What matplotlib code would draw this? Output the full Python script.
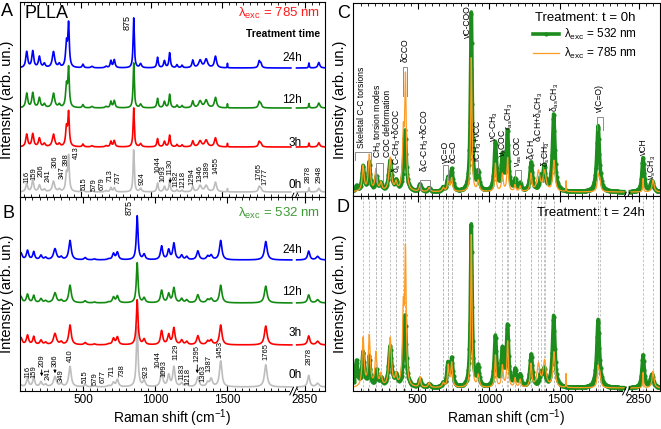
import numpy as np
import matplotlib
matplotlib.use("Agg")
import matplotlib.pyplot as plt
from matplotlib.lines import Line2D

plt.rcParams["font.family"] = ["Liberation Sans", "DejaVu Sans"]
plt.rcParams["mathtext.fontset"] = "custom"
plt.rcParams["mathtext.rm"] = "Liberation Sans"
plt.rcParams["mathtext.it"] = "Liberation Sans:italic"
plt.rcParams["mathtext.bf"] = "Liberation Sans:bold"

# ---------------- data (peak tables) ----------------
peaks_785 = [116, 159, 206, 241, 306, 347, 398, 413, 515, 579, 679, 713, 737, 875, 924,
             1044, 1093, 1130, 1182, 1218, 1294, 1346, 1389, 1455, 1540, 1765, 1777, 2878, 2948]
h785_0h = [0.19, 0.27, 0.16, 0.06, 0.25, 0.06, 0.40, 0.82, 0.05, 0.03, 0.03, 0.10, 0.10, 1.0, 0.08,
           0.21, 0.13, 0.25, 0.05, 0.04, 0.13, 0.15, 0.15, 0.23, 0.08, 0.12, 0.08, 0.10, 0.09]
h785_24h = [0.32, 0.33, 0.22, 0.08, 0.32, 0.07, 0.47, 0.85, 0.07, 0.03, 0.03, 0.14, 0.16, 1.0, 0.08,
            0.21, 0.14, 0.30, 0.06, 0.05, 0.15, 0.15, 0.17, 0.23, 0.09, 0.13, 0.08, 0.10, 0.11]
w785 = [8, 8, 8, 8, 10, 8, 7, 6, 6, 8, 8, 6, 7, 5, 8,
        6, 7, 6, 6, 6, 7, 12, 12, 9, 1.5, 7, 7, 3, 8]

peaks_532 = [70, 116, 159, 209, 241, 306, 349, 410, 515, 579, 677, 711, 738, 875, 923,
             1044, 1093, 1129, 1183, 1218, 1295, 1363, 1387, 1453, 1765, 2878, 2940]
h532_0h = [0.03, 0.14, 0.16, 0.08, 0.04, 0.17, 0.05, 0.34, 0.04, 0.02, 0.02, 0.07, 0.12, 1.0, 0.10,
           0.27, 0.19, 0.33, 0.06, 0.04, 0.16, 0.07, 0.13, 0.43, 0.37, 0.19, 0.06]
h532_24h = [0.16, 0.21, 0.18, 0.10, 0.05, 0.25, 0.06, 0.44, 0.05, 0.02, 0.02, 0.14, 0.17, 1.0, 0.12,
            0.31, 0.22, 0.37, 0.10, 0.07, 0.20, 0.08, 0.10, 0.44, 0.42, 0.20, 0.08]
w532 = [10, 9, 8, 9, 9, 12, 9, 10, 9, 9, 9, 9, 9, 7, 9,
        9, 9, 9, 9, 9, 10, 10, 10, 10, 11, 9, 12]

labels_785 = [116, 159, 206, 241, 306, 347, 398, 413, 515, 579, 679, 713, 737, 924, 1044,
              1093, 1130, 1182, 1218, 1294, 1346, 1389, 1455, 1765, 1777, 2878, 2948]
labels_532 = [116, 159, 209, 241, 306, 349, 410, 515, 579, 677, 711, 738, 923, 1044, 1093,
              1129, 1183, 1218, 1295, 1363, 1387, 1453, 1765, 2878]
times = ["0h", "3h", "12h", "24h"]

# ---------------- layout ----------------
label_x_785 = [116, 170, 215, 269, 317, 364, 395, 466, 522, 593, 648, 707, 766, 932, 1045,
               1085, 1134, 1178, 1226, 1286, 1345, 1397, 1458, 1766, 1806, 2873, 2951]
label_y_785 = [14, 17, 20, 15, 29, 18, 31, 38, 7, 6, 7, 15, 13, 12, 24,
               15, 22, 10, 9, 12, 15, 19, 23, 17, 12, 14, 14]
label_x_532 = [121, 163, 214, 260, 306, 352, 410, 514, 588, 641, 698, 768, 934, 1021, 1061,
               1141, 1183, 1229, 1291, 1328, 1374, 1448, 1764, 2883]
label_y_532 = [13, 13, 24, 11, 24, 9, 29, 8, 6, 8, 14, 14, 13, 23, 14,
               31, 11, 6, 29, 9, 19, 33, 31, 26]
arrows_785 = {1134: (22, 11)}
arrows_532 = {214: (24, 12), 306: (24, 15), 1291: (29, 15)}
# (offset, scale) of each trace in pixel-like units
traces_A = [(5, 42), (50, 39), (89, 45), (129, 50)]
traces_B = [(4, 60), (46, 45), (88, 40), (131, 44)]
time_y_A = [12, 54, 97, 139]
time_y_B = [16, 58, 99, 141]
colors = ["#bdbdbd", "#ff0000", "#128a12", "#0000ff"]

W, H = 661, 429
fig = plt.figure(figsize=(W / 100, H / 100), dpi=100)


def rect(l, t, r, b):
    return [l / W, 1 - b / H, (r - l) / W, (b - t) / H]


axA = fig.add_axes(rect(20, 2, 325, 197))
axB = fig.add_axes(rect(20, 197, 325, 391))
axC = fig.add_axes(rect(353, 3, 660, 196))
axD = fig.add_axes(rect(353, 196, 660, 391))


def make_scale(g0, g1, t1):
    # broken axis: x <= g0 kept, g0..g1 squeezed into g0..t1, then shifted
    def fwd(x):
        x = np.asarray(x, dtype=float)
        return np.where(x <= g0, x, np.where(x >= g1, x - (g1 - t1),
                                             g0 + (x - g0) * (t1 - g0) / (g1 - g0)))

    def inv(t):
        t = np.asarray(t, dtype=float)
        return np.where(t <= g0, t, np.where(t >= t1, t + (g1 - t1),
                                             g0 + (t - g0) * (g1 - g0) / (t1 - g0)))
    return fwd, inv


def lorentz(x, pos, h, w):
    x = np.asarray(x, float)[:, None]
    pos = np.asarray(pos, float)[None, :]
    h = np.asarray(h, float)[None, :]
    w = np.asarray(w, float)[None, :]
    return (h * w ** 2 / ((x - pos) ** 2 + w ** 2)).sum(axis=1)


def draw(ax, pos, h, w, base, scale, segs, **kw):
    for a, b in segs:
        xs = np.linspace(a, b, int((b - a) * 2))
        ax.plot(xs, base + scale * lorentz(xs, pos, h, w), **kw)


def setup(ax, xlim, ylim, gap, labels=True):
    fwd, inv = make_scale(*gap)
    ax.set_xscale("function", functions=(fwd, inv))
    ax.set_xlim(*xlim)
    ax.set_ylim(*ylim)
    ax.set_xticks([500, 1000, 1500, 2850])
    ax.set_xticks(list(range(100, 1951, 50)) + [2800, 2900, 2950], minor=True)
    ax.tick_params(axis="x", which="both", direction="in", top=True, bottom=True,
                   labelbottom=labels, labelsize=8.5, pad=2.5)
    ax.tick_params(axis="x", which="major", length=4)
    ax.tick_params(axis="x", which="minor", length=2.5)
    ax.tick_params(axis="y", left=False, labelleft=False)
    ax.set_ylabel("Intensity (arb. un.)", fontsize=10.5, labelpad=4)
    if labels:
        ax.set_xlabel("Raman shift (cm$^{-1}$)", fontsize=10, labelpad=1)
    for s in ax.spines.values():
        s.set_linewidth(0.8)
    # axis break marks
    t0, t1 = fwd(xlim[0]), fwd(xlim[1])
    f = ((gap[0] + gap[2]) / 2 - t0) / (t1 - t0)
    ax.plot([f - 0.009, f + 0.009], [0, 0], transform=ax.transAxes, color="white",
            lw=2, clip_on=False, zorder=5)
    for d in (-0.006, 0.006):
        ax.plot([f + d - 0.006, f + d + 0.006], [-0.02, 0.02], transform=ax.transAxes,
                color="k", lw=0.7, clip_on=False, zorder=6)


def peak_labels(ax, names, xs, ys, arrows):
    for n, x, y in zip(names, xs, ys):
        ax.text(x, y, str(n), rotation=90, ha="center", va="bottom", fontsize=5.5)
    for x, (y0, y1) in arrows.items():
        ax.annotate("", xy=(x, y1), xytext=(x, y0),
                    arrowprops=dict(arrowstyle="-|>", lw=0.6, color="k", mutation_scale=4))


# ---------------- panel A (785 nm) ----------------
segs_A = [(60, 1990), (2790, 3000)]
setup(axA, (68.5, 2992), (0, 195), (1997, 2785, 2025), labels=False)
for i, ((b, s), c) in enumerate(zip(traces_A, colors)):
    h = h785_0h if i == 0 else h785_24h
    draw(axA, peaks_785, h, w785, b, s, segs_A, color=c, lw=1.2)
    axA.text(2828, time_y_A[i], times[i], ha="right", va="center", fontsize=8.5)
peak_labels(axA, labels_785, label_x_785, label_y_785, arrows_785)
axA.text(827, 167, "875", rotation=90, ha="center", va="bottom", fontsize=6.5)
axA.text(0.016, 0.985, "PLLA", transform=axA.transAxes, ha="left", va="top", fontsize=13)
axA.text(0.984, 0.94, "λ$_{\\rm exc}$ = 785 nm", transform=axA.transAxes, ha="right",
         va="center", fontsize=9.5, color="#ff1a1a")
axA.text(0.984, 0.836, "Treatment time", transform=axA.transAxes, ha="right",
         va="center", fontsize=7.5, fontweight="bold")

# ---------------- panel B (532 nm) ----------------
segs_B = [(60, 1945), (2795, 3000)]
setup(axB, (64, 2991), (0, 194), (1950, 2780, 1964))
for i, ((b, s), c) in enumerate(zip(traces_B, colors)):
    h = h532_0h if i == 0 else h532_24h
    draw(axB, peaks_532, h, w532, b, s, segs_B, color=c, lw=1.2)
    axB.text(2831, time_y_B[i], times[i], ha="right", va="center", fontsize=8.5)
peak_labels(axB, labels_532, label_x_532, label_y_532, arrows_532)
axB.text(822, 176, "875", rotation=90, ha="center", va="bottom", fontsize=6.5)
axB.text(0.984, 0.917, "λ$_{\\rm exc}$ = 532 nm", transform=axB.transAxes, ha="right",
         va="center", fontsize=9.5, color="#3f9b35")

# ---------------- panel C (t = 0h) ----------------
green, orange = "#1c8c1c", "#ff9b21"
gap_CD = (1950, 2773, 1975)
segs_CD = [(50, 1945), (2790, 3000)]
setup(axC, (45, 2997), (0, 193), gap_CD, labels=False)
draw(axC, peaks_532, h532_0h, w532, 4, 179, segs_CD, color=green, lw=2.6, marker="o",
     ms=2, markevery=8)
draw(axC, peaks_785, h785_0h, w785, 4, 134, segs_CD, color=orange, lw=0.9)

gray = "#8c8c8c"
assignments = [
    ("Skeletal C-C torsions", 108, 48, (59, 171, 44, 36)),
    ("CH$_3$ torsion modes", 220, 38, (206, 256, 33, 14)),
    ("COC deformation", 290, 39, None),
    ("δ$_{\\rm s}$C-CH$_3$+δCOC", 352, 23, None),
    ("δCCO", 410, 134, (396, 424, 129, 100)),
    ("δ$_{\\rm t}$C-CH$_3$+δCCO", 550, 24, (515, 585, 16, 6)),
    ("γC=O", 696, 33, (677, 712, 31, 16)),
    ("δC=O", 749, 33, None),
    ("νC-COO", 845, 158, None),
    ("rCH$_3$+νCC", 922, 34, None),
    ("νC-CH$_3$", 1034, 54, None),
    ("ν$_{\\rm s}$COC", 1099, 39, None),
    ("r$_{\\rm as}$CH$_3$", 1144, 66, None),
    ("ν$_{\\rm as}$COC", 1203, 29, (1182, 1224, 26, 14)),
    ("δ$_{\\rm t}$CH", 1301, 36, None),
    ("δ$_{\\rm t}$CH+δ$_{\\rm s}$CH$_3$", 1348, 54, None),
    ("δ$_{\\rm s}$CH$_3$", 1394, 29, None),
    ("δ$_{\\rm as}$CH$_3$", 1463, 84, None),
    ("ν(C=O)", 1771, 84, (1757, 1799, 79, 66)),
    ("νCH", 2878, 41, None),
    ("ν$_{\\rm s}$CH$_3$", 2941, 16, None),
]
for text, x, y, br in assignments:
    axC.text(x, y, text, rotation=90, ha="center", va="bottom", fontsize=6.2, zorder=7)
    if br is not None:
        x1, x2, yt, yb = br
        axC.plot([x1, x1, x2, x2], [yb, yt, yt, yb], color=gray, lw=0.7, zorder=6)
axC.plot([922, 922], [34, 23], color=gray, lw=0.7)
axC.plot([1378, 1378], [54, 14], color=gray, lw=0.7)

handles = [Line2D([], [], color=green, lw=2.6, marker="o", ms=2),
           Line2D([], [], color=orange, lw=0.9)]
axC.legend(handles, ["λ$_{\\rm exc}$ = 532 nm", "λ$_{\\rm exc}$ = 785 nm"],
           title="Treatment: t = 0h", loc="upper right", bbox_to_anchor=(0.96, 1.01),
           frameon=False, fontsize=8.5, title_fontsize=9.5, handlelength=2.2,
           labelspacing=0.3, handletextpad=0.4)

# ---------------- panel D (t = 24h) ----------------
setup(axD, (45, 2997), (0, 195), gap_CD)
for p in sorted(set(labels_785) | set(labels_532)):
    axD.axvline(p, color="#b8b8b8", ls=(0, (3, 2)), lw=0.6, zorder=0)
draw(axD, peaks_532, h532_24h, w532, 3, 163, segs_CD, color=green, lw=2.6, marker="o",
     ms=2, markevery=8)
draw(axD, peaks_785, h785_24h, w785, 3, 153, segs_CD, color=orange, lw=0.9)
axD.text(0.951, 0.913, "Treatment: t = 24h", transform=axD.transAxes, ha="right",
         va="center", fontsize=9.5)

# panel letters
for letter, x, y in [("A", 1, 12), ("B", 2, 214), ("C", 337, 13), ("D", 337, 207)]:
    fig.text(x / W, 1 - y / H, letter, fontsize=13, ha="left", va="center")

fig.savefig("out.png", dpi=100)
